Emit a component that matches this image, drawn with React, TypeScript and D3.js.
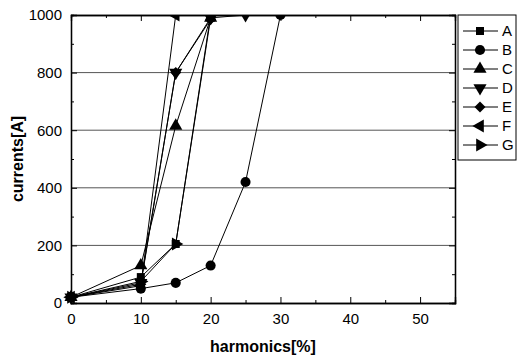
import React, { useRef, useEffect } from "react";
import * as d3 from "d3";

// harmonics [%] vs currents [A], one array per series
const seriesNames = ["A", "B", "C", "D", "E", "F", "G"];
const xA = [0, 10, 15, 20];
const yA = [20, 90, 205, 990];
const xB = [0, 10, 15, 20, 25, 30];
const yB = [20, 50, 70, 130, 420, 1000];
const xC = [0, 10, 15, 20];
const yC = [20, 130, 615, 990];
const xD = [0, 10, 15, 20, 25];
const yD = [20, 70, 800, 990, 1000];
const xE = [0, 10, 15, 20];
const yE = [20, 65, 800, 985];
const xF = [0, 10, 15];
const yF = [20, 60, 1000];
const xG = [0, 10, 15, 20];
const yG = [20, 75, 205, 1000];

const xTicks = [0, 10, 20, 30, 40, 50];
const yTicks = [0, 200, 400, 600, 800, 1000];
const gridValues = [200, 400, 600, 800];

const App = () => {
    const svgRef = useRef(null);
    const width = 521;
    const height = 358;
    const margin = { left: 71, right: 66, top: 15, bottom: 55 };

    useEffect(() => {
        const svg = d3.select(svgRef.current);
        svg.selectAll("*").remove();

        const xScale = d3.scaleLinear().domain([0, 55]).range([margin.left, width - margin.right]);
        const yScale = d3.scaleLinear().domain([0, 1000]).range([height - margin.bottom, margin.top]);
        const x0 = xScale.range()[0], x1 = xScale.range()[1];
        const y0 = yScale.range()[0], y1 = yScale.range()[1];

        // clip the marks at the top of the frame, like the original
        svg.append("defs").append("clipPath").attr("id", "plotClip")
            .append("rect")
            .attr("x", x0 - 10).attr("y", y1)
            .attr("width", x1 - x0 + 10).attr("height", y0 - y1 + 10);

        // grid
        svg.append("g")
            .selectAll("line")
            .data(gridValues)
            .join("line")
            .attr("x1", x0).attr("x2", x1)
            .attr("y1", d => yScale(d)).attr("y2", d => yScale(d))
            .attr("stroke", "#555").attr("stroke-width", 1);

        const font = "'Liberation Sans', Arial, sans-serif";
        const minorX = [5, 15, 25, 35, 45, 55];
        const minorY = [100, 300, 500, 700, 900];

        // axes on all four sides, ticks pointing inward
        const bottom = svg.append("g")
            .attr("transform", `translate(0,${y0})`)
            .call(d3.axisBottom(xScale).tickValues(xTicks).tickSize(-6).tickPadding(10));
        bottom.append("g").call(d3.axisBottom(xScale).tickValues(minorX).tickSize(-3).tickFormat(() => ""));
        const top = svg.append("g")
            .attr("transform", `translate(0,${y1})`)
            .call(d3.axisTop(xScale).tickValues(xTicks).tickSize(-6).tickFormat(() => ""));
        top.append("g").call(d3.axisTop(xScale).tickValues(minorX).tickSize(-3).tickFormat(() => ""));

        const left = svg.append("g")
            .attr("transform", `translate(${x0},0)`)
            .call(d3.axisLeft(yScale).tickValues(yTicks).tickSize(-6).tickPadding(9).tickFormat(d3.format("d")));
        left.append("g").call(d3.axisLeft(yScale).tickValues(minorY).tickSize(-3).tickFormat(() => ""));
        const right = svg.append("g")
            .attr("transform", `translate(${x1},0)`)
            .call(d3.axisRight(yScale).tickValues(yTicks).tickSize(-6).tickFormat(() => ""));
        right.append("g").call(d3.axisRight(yScale).tickValues(minorY).tickSize(-3).tickFormat(() => ""));

        svg.selectAll(".domain").attr("stroke", "#000").attr("stroke-width", 1.3);
        svg.selectAll(".tick line").attr("stroke", "#000");
        svg.selectAll(".tick text").attr("font-family", font).attr("font-size", 15).attr("fill", "#000");

        // series
        const xs = [xA, xB, xC, xD, xE, xF, xG];
        const ys = [yA, yB, yC, yD, yE, yF, yG];
        const symbols = [
            d3.symbol(d3.symbolSquare, 64),
            d3.symbol(d3.symbolCircle, 80),
            d3.symbol(d3.symbolTriangle, 75),
            d3.symbol(d3.symbolTriangle, 75),
            d3.symbol(d3.symbolSquare, 60),
            d3.symbol(d3.symbolTriangle, 75),
            d3.symbol(d3.symbolTriangle, 75),
        ];
        const rotations = [0, 0, 0, 180, 45, -90, 90];

        const line = d3.line<[number, number]>()
            .x(d => xScale(d[0]))
            .y(d => yScale(d[1]));

        const plot = svg.append("g").attr("clip-path", "url(#plotClip)");
        seriesNames.forEach((name, i) => {
            const pts: [number, number][] = xs[i].map((x, j) => [x, ys[i][j]]);
            plot.append("path")
                .attr("d", line(pts))
                .attr("fill", "none")
                .attr("stroke", "#000")
                .attr("stroke-width", 1);
            plot.append("g")
                .selectAll("path")
                .data(pts)
                .join("path")
                .attr("d", symbols[i]())
                .attr("transform", d => `translate(${xScale(d[0])},${yScale(d[1])}) rotate(${rotations[i]})`)
                .attr("fill", "#000");
        });

        // axis titles
        svg.append("text")
            .attr("x", (x0 + x1) / 2)
            .attr("y", 352)
            .attr("text-anchor", "middle")
            .attr("font-family", font)
            .attr("font-weight", "bold")
            .attr("font-size", 16)
            .text("harmonics[%]");
        svg.append("text")
            .attr("transform", `translate(23,${(y0 + y1) / 2}) rotate(-90)`)
            .attr("text-anchor", "middle")
            .attr("font-family", font)
            .attr("font-weight", "bold")
            .attr("font-size", 16)
            .text("currents[A]");

        // legend
        const legend = svg.append("g");
        legend.append("rect")
            .attr("x", 458).attr("y", 15)
            .attr("width", 58).attr("height", 145)
            .attr("fill", "#fff").attr("stroke", "#000").attr("stroke-width", 1);
        seriesNames.forEach((name, i) => {
            const cy = 31 + i * 19;
            legend.append("line")
                .attr("x1", 463).attr("x2", 498)
                .attr("y1", cy).attr("y2", cy)
                .attr("stroke", "#000");
            legend.append("path")
                .attr("d", symbols[i]())
                .attr("transform", `translate(480,${cy}) rotate(${rotations[i]})`)
                .attr("fill", "#000");
            legend.append("text")
                .attr("x", 502).attr("y", cy + 5)
                .attr("font-family", font)
                .attr("font-size", 15)
                .text(name);
        });
    }, []);

    return (
        <svg ref={svgRef} width={width} height={height} style={{ position: "absolute", left: 0, top: 0 }}>
        </svg>
    );
};

export default App;
